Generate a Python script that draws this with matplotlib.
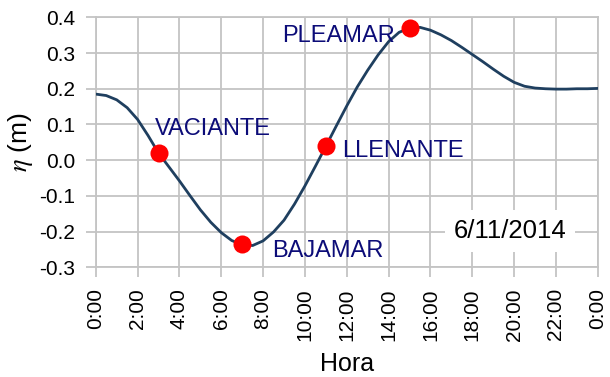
import numpy as np
import matplotlib
matplotlib.use("Agg")
import matplotlib.pyplot as plt

plt.rcParams['font.family'] = ['Liberation Sans', 'DejaVu Sans']
plt.rcParams['mathtext.fontset'] = 'stix'

# surface elevation over the day, every half hour
hours = np.arange(0, 24.5, 0.5)
eta = [0.185, 0.181, 0.169, 0.147, 0.114, 0.069, 0.020, -0.019, -0.058, -0.099,
       -0.139, -0.174, -0.203, -0.225, -0.237, -0.239, -0.226, -0.201, -0.168, -0.123,
       -0.072, -0.017, 0.039, 0.096, 0.152, 0.205, 0.252, 0.295, 0.332, 0.358,
       0.370, 0.372, 0.364, 0.351, 0.335, 0.316, 0.296, 0.276, 0.255, 0.235,
       0.218, 0.207, 0.202, 0.200, 0.199, 0.199, 0.200, 0.200, 0.201]

# tide stages
stage_names = ['VACIANTE', 'BAJAMAR', 'LLENANTE', 'PLEAMAR']
stage_hours = [3, 7, 11, 15]
stage_eta = [0.02, -0.235, 0.04, 0.37]
label_pos = [(2.82, 0.086), (8.41, -0.254), (11.8, 0.027), (8.9, 0.348)]

xticks = np.arange(0, 25, 2)
xticklabels = ['%d:00' % (h % 24) for h in xticks]
yticks = np.arange(-0.3, 0.41, 0.1)

fig = plt.figure(figsize=(6.1, 3.77), dpi=100)
ax = fig.add_axes([0.157, 0.291, 0.823, 0.663])

ax.plot(hours, eta, color='#1f3f5f', lw=2.0, zorder=3)
ax.plot(stage_hours, stage_eta, 'o', color='#ff0000', ms=13, mec='none', zorder=4)

for name, (lx, ly) in zip(stage_names, label_pos):
    ax.text(lx, ly, name, color='#0c0c78', fontsize=17, va='center', ha='left', zorder=5)

ax.text(19.8, -0.198, '6/11/2014', fontsize=18.5, ha='center', va='center', color='black',
        bbox=dict(boxstyle='square,pad=0.35', fc='white', ec='none'), zorder=5)

ax.set_xlim(0, 24)
ax.set_ylim(-0.3, 0.4)
ax.set_xticks(xticks)
ax.set_xticklabels(xticklabels, rotation=90)
ax.set_yticks(yticks)
ax.set_yticklabels(['%.1f' % v for v in yticks])
ax.grid(True, color='#c4c4c4', lw=1.3, zorder=0)
for s in ax.spines.values():
    s.set_color('#c4c4c4')
    s.set_linewidth(1.3)
ax.tick_params(direction='out', length=7, width=1.3, color='#c4c4c4',
               labelsize=15, pad=8, labelcolor='black')

ax.set_xlabel('Hora', fontsize=18, labelpad=8)
ax.set_ylabel(r'$\eta$ (m)', fontsize=19, labelpad=3)

fig.savefig('out.png', dpi=100)
